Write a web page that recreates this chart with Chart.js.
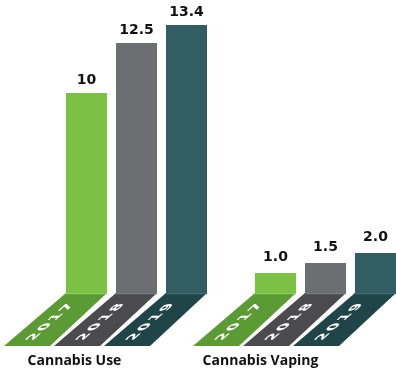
<!DOCTYPE html>
<html>
<head>
<meta charset="utf-8">
<script src="https://cdn.jsdelivr.net/npm/chart.js@4/dist/chart.umd.min.js"></script>
<style>
  html, body { margin: 0; padding: 0; background: #fff; }
  #wrap { width: 396px; height: 372px; }
</style>
</head>
<body>
<div id="wrap"><canvas id="grafico" width="396" height="372"></canvas></div>
<script>
// Dados do gráfico
const categorias = ['Cannabis Use', 'Cannabis Vaping'];
const anos = ['2017', '2018', '2019'];
const valores2017 = [10, 1.0];
const valores2018 = [12.5, 1.5];
const valores2019 = [13.4, 2.0];

// Cores: barra, base inclinada, linha de brilho
const coresBarra = ['#7bc143', '#6d6e71', '#325e63'];
const coresBase = ['#5b9a35', '#4b4b4d', '#1f4548'];
const coresBrilho = ['#8ccf5a', '#7c7d80', '#3f6d71'];

// formata o rótulo de valor (primeiro grupo sem casa decimal quando inteiro)
function textoValor(v, grupo) {
    if (grupo === 0 && Number.isInteger(v)) return String(v);
    return v.toFixed(1);
}

// Plugin que desenha as bases inclinadas, os anos e os rótulos
const enfeites = {
    id: 'enfeites',
    afterDatasetsDraw(chart) {
        const ctx = chart.ctx;
        const area = chart.chartArea;
        const yBase = area.bottom;
        const altura = 53;
        const desvioEsq = 62, desvioDir = 57;
        const k = -60 / altura;

        chart.data.datasets.forEach((ds, d) => {
            const meta = chart.getDatasetMeta(d);
            meta.data.forEach((bar, i) => {
                const esq = bar.x - bar.width / 2;
                const dir = bar.x + bar.width / 2;

                // base inclinada
                ctx.save();
                ctx.fillStyle = coresBase[d];
                ctx.beginPath();
                ctx.moveTo(esq, yBase);
                ctx.lineTo(dir, yBase);
                ctx.lineTo(dir - desvioDir, yBase + altura);
                ctx.lineTo(esq - desvioEsq, yBase + altura);
                ctx.closePath();
                ctx.fill();
                ctx.fillStyle = coresBrilho[d];
                ctx.fillRect(esq - 1, yBase, bar.width + 1, 1.2);

                // ano escrito na base
                ctx.setTransform(1, 0, k, 1, -k * yBase, 0);
                ctx.translate(bar.x - 3, yBase + 29);
                ctx.rotate(-Math.PI / 2);
                ctx.fillStyle = '#ffffff';
                ctx.font = 'bold 12px "DejaVu Sans"';
                ctx.textBaseline = 'middle';
                ctx.textAlign = 'center';
                const txt = anos[d];
                const passo = 9.8;
                for (let c = 0; c < txt.length; c++) {
                    ctx.fillText(txt[c], (c - (txt.length - 1) / 2) * passo, 0);
                }
                ctx.restore();

                // valor acima da barra
                ctx.save();
                ctx.fillStyle = '#111';
                ctx.font = 'bold 14px "DejaVu Sans"';
                ctx.textAlign = 'center';
                ctx.textBaseline = 'alphabetic';
                ctx.fillText(textoValor(ds.data[i], i), bar.x, bar.y - (i === 0 ? 9 : 12));
                ctx.restore();
            });
        });

        // nomes dos grupos
        const xs = chart.scales.x;
        ctx.save();
        ctx.fillStyle = '#111';
        ctx.font = 'bold 14px "Open Sans"';
        ctx.textAlign = 'center';
        ctx.textBaseline = 'alphabetic';
        categorias.forEach((c, i) => {
            ctx.fillText(c, xs.getPixelForValue(i) - (i === 0 ? 62 : 65), 365);
        });
        ctx.restore();
    }
};

const ctx = document.getElementById('grafico').getContext('2d');

const grafico = new Chart(ctx, {
    type: 'bar',
    data: {
        labels: categorias,
        datasets: [
            { label: anos[0], data: valores2017, backgroundColor: coresBarra[0] },
            { label: anos[1], data: valores2018, backgroundColor: coresBarra[1] },
            { label: anos[2], data: valores2019, backgroundColor: coresBarra[2] }
        ]
    },
    options: {
        responsive: false,
        animation: false,
        categoryPercentage: 0.7937,
        barPercentage: 0.82,
        datasets: { bar: { clip: false } },
        layout: {
            padding: { left: 136.5, right: 70.5, top: 1, bottom: 79 }
        },
        scales: {
            x: { display: false, offset: false, grid: { offset: false } },
            y: { display: false, min: 0, max: 14.6 }
        },
        plugins: {
            legend: { display: false },
            tooltip: { enabled: false }
        }
    },
    plugins: [enfeites]
});
</script>
</body>
</html>
